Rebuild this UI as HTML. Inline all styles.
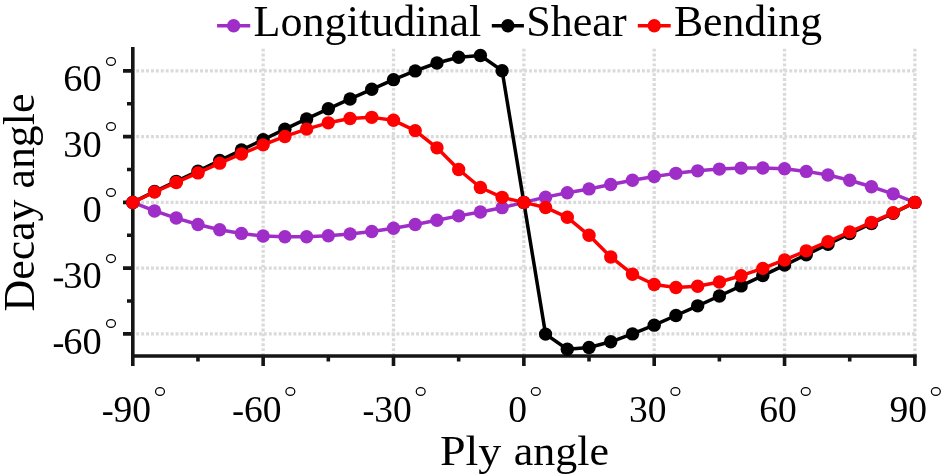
<!DOCTYPE html><html><head><meta charset="utf-8"><style>html,body{margin:0;padding:0;background:#fff;}svg{display:block;will-change:transform;}text{font-family:"Liberation Serif",serif;fill:#000;}</style></head><body>
<svg width="944" height="474" viewBox="0 0 944 474">
<rect width="944" height="474" fill="#fff"/>
<path d="M263.15 47V356 M393.50 47V356 M523.85 47V356 M654.20 47V356 M784.55 47V356 M914.90 47V356" stroke="#dadada" stroke-width="3.3" stroke-dasharray="2.9 2.01" stroke-dashoffset="-1.65" fill="none"/>
<path d="M132.80 70.90H914.90 M132.80 136.65H914.90 M132.80 202.40H914.90 M132.80 268.15H914.90 M132.80 333.90H914.90" stroke="#dadada" stroke-width="3.3" stroke-dasharray="2.9 2.01" stroke-dashoffset="1.45" fill="none"/>
<path d="M132.80 47V366 M131.30 356H916.80 M263.15 356V366 M393.50 356V366 M523.85 356V366 M654.20 356V366 M784.55 356V366 M914.90 356V366 M197.97 356V361.5 M328.32 356V361.5 M458.67 356V361.5 M589.02 356V361.5 M719.38 356V361.5 M849.72 356V361.5 M132.80 70.90H123 M132.80 136.65H123 M132.80 202.40H123 M132.80 268.15H123 M132.80 333.90H123 M132.80 103.77H127 M132.80 169.52H127 M132.80 235.28H127 M132.80 301.03H127" stroke="#151515" stroke-width="3.6" fill="none"/>
<path d="M132.80 202.40 L154.53 210.95 L176.25 218.07 L197.97 224.54 L219.70 229.80 L241.43 233.41 L263.15 236.04 L284.88 236.81 L306.60 236.70 L328.32 235.71 L350.05 233.96 L371.77 231.44 L393.50 228.26 L415.22 224.54 L436.95 220.26 L458.67 215.88 L480.40 212.04 L502.12 207.66 L523.85 202.40 L545.57 197.14 L567.30 192.76 L589.02 188.92 L610.75 184.54 L632.47 180.26 L654.20 176.54 L675.92 173.36 L697.65 170.84 L719.38 169.09 L741.10 168.10 L762.82 167.99 L784.55 168.76 L806.27 171.39 L828.00 175.00 L849.72 180.26 L871.45 186.73 L893.17 193.85 L914.90 202.40" stroke="#9f2ec8" stroke-width="3.5" fill="none" stroke-linejoin="round"/><circle cx="132.80" cy="202.40" r="6.7" fill="#9f2ec8"/><circle cx="154.53" cy="210.95" r="6.7" fill="#9f2ec8"/><circle cx="176.25" cy="218.07" r="6.7" fill="#9f2ec8"/><circle cx="197.97" cy="224.54" r="6.7" fill="#9f2ec8"/><circle cx="219.70" cy="229.80" r="6.7" fill="#9f2ec8"/><circle cx="241.43" cy="233.41" r="6.7" fill="#9f2ec8"/><circle cx="263.15" cy="236.04" r="6.7" fill="#9f2ec8"/><circle cx="284.88" cy="236.81" r="6.7" fill="#9f2ec8"/><circle cx="306.60" cy="236.70" r="6.7" fill="#9f2ec8"/><circle cx="328.32" cy="235.71" r="6.7" fill="#9f2ec8"/><circle cx="350.05" cy="233.96" r="6.7" fill="#9f2ec8"/><circle cx="371.77" cy="231.44" r="6.7" fill="#9f2ec8"/><circle cx="393.50" cy="228.26" r="6.7" fill="#9f2ec8"/><circle cx="415.22" cy="224.54" r="6.7" fill="#9f2ec8"/><circle cx="436.95" cy="220.26" r="6.7" fill="#9f2ec8"/><circle cx="458.67" cy="215.88" r="6.7" fill="#9f2ec8"/><circle cx="480.40" cy="212.04" r="6.7" fill="#9f2ec8"/><circle cx="502.12" cy="207.66" r="6.7" fill="#9f2ec8"/><circle cx="523.85" cy="202.40" r="6.7" fill="#9f2ec8"/><circle cx="545.57" cy="197.14" r="6.7" fill="#9f2ec8"/><circle cx="567.30" cy="192.76" r="6.7" fill="#9f2ec8"/><circle cx="589.02" cy="188.92" r="6.7" fill="#9f2ec8"/><circle cx="610.75" cy="184.54" r="6.7" fill="#9f2ec8"/><circle cx="632.47" cy="180.26" r="6.7" fill="#9f2ec8"/><circle cx="654.20" cy="176.54" r="6.7" fill="#9f2ec8"/><circle cx="675.92" cy="173.36" r="6.7" fill="#9f2ec8"/><circle cx="697.65" cy="170.84" r="6.7" fill="#9f2ec8"/><circle cx="719.38" cy="169.09" r="6.7" fill="#9f2ec8"/><circle cx="741.10" cy="168.10" r="6.7" fill="#9f2ec8"/><circle cx="762.82" cy="167.99" r="6.7" fill="#9f2ec8"/><circle cx="784.55" cy="168.76" r="6.7" fill="#9f2ec8"/><circle cx="806.27" cy="171.39" r="6.7" fill="#9f2ec8"/><circle cx="828.00" cy="175.00" r="6.7" fill="#9f2ec8"/><circle cx="849.72" cy="180.26" r="6.7" fill="#9f2ec8"/><circle cx="871.45" cy="186.73" r="6.7" fill="#9f2ec8"/><circle cx="893.17" cy="193.85" r="6.7" fill="#9f2ec8"/><circle cx="914.90" cy="202.40" r="6.7" fill="#9f2ec8"/>
<path d="M132.80 202.40 L154.53 191.55 L176.25 181.36 L197.97 171.17 L219.70 160.54 L241.43 150.02 L263.15 139.72 L284.88 129.20 L306.60 118.90 L328.32 108.81 L350.05 98.95 L371.77 89.31 L393.50 79.66 L415.22 70.90 L436.95 63.01 L458.67 57.31 L480.40 55.56 L502.12 70.68 L523.85 202.40 L545.57 334.12 L567.30 349.24 L589.02 347.49 L610.75 341.79 L632.47 333.90 L654.20 325.14 L675.92 315.49 L697.65 305.85 L719.38 295.99 L741.10 285.90 L762.82 275.60 L784.55 265.08 L806.27 254.78 L828.00 244.26 L849.72 233.63 L871.45 223.44 L893.17 213.25 L914.90 202.40" stroke="#000000" stroke-width="3.5" fill="none" stroke-linejoin="round"/><circle cx="132.80" cy="202.40" r="6.7" fill="#000000"/><circle cx="154.53" cy="191.55" r="6.7" fill="#000000"/><circle cx="176.25" cy="181.36" r="6.7" fill="#000000"/><circle cx="197.97" cy="171.17" r="6.7" fill="#000000"/><circle cx="219.70" cy="160.54" r="6.7" fill="#000000"/><circle cx="241.43" cy="150.02" r="6.7" fill="#000000"/><circle cx="263.15" cy="139.72" r="6.7" fill="#000000"/><circle cx="284.88" cy="129.20" r="6.7" fill="#000000"/><circle cx="306.60" cy="118.90" r="6.7" fill="#000000"/><circle cx="328.32" cy="108.81" r="6.7" fill="#000000"/><circle cx="350.05" cy="98.95" r="6.7" fill="#000000"/><circle cx="371.77" cy="89.31" r="6.7" fill="#000000"/><circle cx="393.50" cy="79.66" r="6.7" fill="#000000"/><circle cx="415.22" cy="70.90" r="6.7" fill="#000000"/><circle cx="436.95" cy="63.01" r="6.7" fill="#000000"/><circle cx="458.67" cy="57.31" r="6.7" fill="#000000"/><circle cx="480.40" cy="55.56" r="6.7" fill="#000000"/><circle cx="502.12" cy="70.68" r="6.7" fill="#000000"/><circle cx="523.85" cy="202.40" r="6.7" fill="#000000"/><circle cx="545.57" cy="334.12" r="6.7" fill="#000000"/><circle cx="567.30" cy="349.24" r="6.7" fill="#000000"/><circle cx="589.02" cy="347.49" r="6.7" fill="#000000"/><circle cx="610.75" cy="341.79" r="6.7" fill="#000000"/><circle cx="632.47" cy="333.90" r="6.7" fill="#000000"/><circle cx="654.20" cy="325.14" r="6.7" fill="#000000"/><circle cx="675.92" cy="315.49" r="6.7" fill="#000000"/><circle cx="697.65" cy="305.85" r="6.7" fill="#000000"/><circle cx="719.38" cy="295.99" r="6.7" fill="#000000"/><circle cx="741.10" cy="285.90" r="6.7" fill="#000000"/><circle cx="762.82" cy="275.60" r="6.7" fill="#000000"/><circle cx="784.55" cy="265.08" r="6.7" fill="#000000"/><circle cx="806.27" cy="254.78" r="6.7" fill="#000000"/><circle cx="828.00" cy="244.26" r="6.7" fill="#000000"/><circle cx="849.72" cy="233.63" r="6.7" fill="#000000"/><circle cx="871.45" cy="223.44" r="6.7" fill="#000000"/><circle cx="893.17" cy="213.25" r="6.7" fill="#000000"/><circle cx="914.90" cy="202.40" r="6.7" fill="#000000"/>
<path d="M132.80 202.40 L154.53 191.99 L176.25 182.46 L197.97 172.92 L219.70 163.17 L241.43 153.96 L263.15 144.87 L284.88 136.43 L306.60 129.09 L328.32 122.84 L350.05 118.57 L371.77 117.36 L393.50 120.32 L415.22 130.62 L436.95 147.83 L458.67 169.52 L480.40 187.50 L502.12 197.36 L523.85 202.40 L545.57 207.44 L567.30 217.30 L589.02 235.28 L610.75 256.97 L632.47 274.18 L654.20 284.48 L675.92 287.44 L697.65 286.23 L719.38 281.96 L741.10 275.71 L762.82 268.37 L784.55 259.93 L806.27 250.84 L828.00 241.63 L849.72 231.88 L871.45 222.34 L893.17 212.81 L914.90 202.40" stroke="#ff0000" stroke-width="3.5" fill="none" stroke-linejoin="round"/><circle cx="132.80" cy="202.40" r="6.7" fill="#ff0000"/><circle cx="154.53" cy="191.99" r="6.7" fill="#ff0000"/><circle cx="176.25" cy="182.46" r="6.7" fill="#ff0000"/><circle cx="197.97" cy="172.92" r="6.7" fill="#ff0000"/><circle cx="219.70" cy="163.17" r="6.7" fill="#ff0000"/><circle cx="241.43" cy="153.96" r="6.7" fill="#ff0000"/><circle cx="263.15" cy="144.87" r="6.7" fill="#ff0000"/><circle cx="284.88" cy="136.43" r="6.7" fill="#ff0000"/><circle cx="306.60" cy="129.09" r="6.7" fill="#ff0000"/><circle cx="328.32" cy="122.84" r="6.7" fill="#ff0000"/><circle cx="350.05" cy="118.57" r="6.7" fill="#ff0000"/><circle cx="371.77" cy="117.36" r="6.7" fill="#ff0000"/><circle cx="393.50" cy="120.32" r="6.7" fill="#ff0000"/><circle cx="415.22" cy="130.62" r="6.7" fill="#ff0000"/><circle cx="436.95" cy="147.83" r="6.7" fill="#ff0000"/><circle cx="458.67" cy="169.52" r="6.7" fill="#ff0000"/><circle cx="480.40" cy="187.50" r="6.7" fill="#ff0000"/><circle cx="502.12" cy="197.36" r="6.7" fill="#ff0000"/><circle cx="523.85" cy="202.40" r="6.7" fill="#ff0000"/><circle cx="545.57" cy="207.44" r="6.7" fill="#ff0000"/><circle cx="567.30" cy="217.30" r="6.7" fill="#ff0000"/><circle cx="589.02" cy="235.28" r="6.7" fill="#ff0000"/><circle cx="610.75" cy="256.97" r="6.7" fill="#ff0000"/><circle cx="632.47" cy="274.18" r="6.7" fill="#ff0000"/><circle cx="654.20" cy="284.48" r="6.7" fill="#ff0000"/><circle cx="675.92" cy="287.44" r="6.7" fill="#ff0000"/><circle cx="697.65" cy="286.23" r="6.7" fill="#ff0000"/><circle cx="719.38" cy="281.96" r="6.7" fill="#ff0000"/><circle cx="741.10" cy="275.71" r="6.7" fill="#ff0000"/><circle cx="762.82" cy="268.37" r="6.7" fill="#ff0000"/><circle cx="784.55" cy="259.93" r="6.7" fill="#ff0000"/><circle cx="806.27" cy="250.84" r="6.7" fill="#ff0000"/><circle cx="828.00" cy="241.63" r="6.7" fill="#ff0000"/><circle cx="849.72" cy="231.88" r="6.7" fill="#ff0000"/><circle cx="871.45" cy="222.34" r="6.7" fill="#ff0000"/><circle cx="893.17" cy="212.81" r="6.7" fill="#ff0000"/><circle cx="914.90" cy="202.40" r="6.7" fill="#ff0000"/>
<text transform="translate(101.6 90.90) scale(1.025 1)" font-size="37.5" text-anchor="end">60</text>
<ellipse cx="111.00" cy="61.50" rx="4.45" ry="3.95" fill="none" stroke="#000" stroke-width="1.25"/>
<text transform="translate(101.6 156.65) scale(1.025 1)" font-size="37.5" text-anchor="end">30</text>
<ellipse cx="111.00" cy="126.50" rx="4.45" ry="3.95" fill="none" stroke="#000" stroke-width="1.25"/>
<text transform="translate(101.6 222.40) scale(1.025 1)" font-size="37.5" text-anchor="end">0</text>
<ellipse cx="111.00" cy="192.50" rx="4.45" ry="3.95" fill="none" stroke="#000" stroke-width="1.25"/>
<text transform="translate(101.6 288.15) scale(1.025 1)" font-size="37.5" text-anchor="end">30</text>
<rect x="53.80" y="278.55" width="9.3" height="2.7" fill="#000"/>
<ellipse cx="111.00" cy="258.60" rx="4.45" ry="3.95" fill="none" stroke="#000" stroke-width="1.25"/>
<text transform="translate(101.6 353.90) scale(1.025 1)" font-size="37.5" text-anchor="end">60</text>
<rect x="53.80" y="344.30" width="9.3" height="2.7" fill="#000"/>
<ellipse cx="111.00" cy="323.50" rx="4.45" ry="3.95" fill="none" stroke="#000" stroke-width="1.25"/>
<text x="151.10" y="421.9" font-size="37.5" text-anchor="end">90</text>
<rect x="103.10" y="412.30" width="9.3" height="2.7" fill="#000"/>
<ellipse cx="160.00" cy="391.45" rx="4.45" ry="3.95" fill="none" stroke="#000" stroke-width="1.25"/>
<text x="281.45" y="421.9" font-size="37.5" text-anchor="end">60</text>
<rect x="233.45" y="412.30" width="9.3" height="2.7" fill="#000"/>
<ellipse cx="290.35" cy="391.45" rx="4.45" ry="3.95" fill="none" stroke="#000" stroke-width="1.25"/>
<text x="411.80" y="421.9" font-size="37.5" text-anchor="end">30</text>
<rect x="363.80" y="412.30" width="9.3" height="2.7" fill="#000"/>
<ellipse cx="420.70" cy="391.45" rx="4.45" ry="3.95" fill="none" stroke="#000" stroke-width="1.25"/>
<text x="526.90" y="421.9" font-size="37.5" text-anchor="end">0</text>
<ellipse cx="535.80" cy="391.45" rx="4.45" ry="3.95" fill="none" stroke="#000" stroke-width="1.25"/>
<text x="666.50" y="421.9" font-size="37.5" text-anchor="end">30</text>
<ellipse cx="675.40" cy="391.45" rx="4.45" ry="3.95" fill="none" stroke="#000" stroke-width="1.25"/>
<text x="796.85" y="421.9" font-size="37.5" text-anchor="end">60</text>
<ellipse cx="805.75" cy="391.45" rx="4.45" ry="3.95" fill="none" stroke="#000" stroke-width="1.25"/>
<text x="926.95" y="421.9" font-size="37.5" text-anchor="end">90</text>
<ellipse cx="935.85" cy="391.45" rx="4.45" ry="3.95" fill="none" stroke="#000" stroke-width="1.25"/>
<path d="M217.1 25.8H250.2" stroke="#9f2ec8" stroke-width="3.5"/><circle cx="233.65" cy="25.8" r="6.7" fill="#9f2ec8"/>
<text transform="translate(253.60 36.00) scale(1.0160 1)" font-size="43.4" text-anchor="start">Longitudinal</text>
<path d="M491.8 25.8H523.9" stroke="#000000" stroke-width="3.5"/><circle cx="507.85" cy="25.8" r="6.7" fill="#000000"/>
<text transform="translate(526.20 36.00) scale(1.0160 1)" font-size="43.4" text-anchor="start">Shear</text>
<path d="M637.8 25.8H670.7" stroke="#ff0000" stroke-width="3.5"/><circle cx="654.25" cy="25.8" r="6.7" fill="#ff0000"/>
<text transform="translate(673.90 36.00) scale(1.0080 1)" font-size="43.4" text-anchor="start">Bending</text>
<text transform="translate(440.00 464.90) scale(1.0690 1)" font-size="43" text-anchor="start">Ply</text>
<text transform="translate(513.80 464.90) scale(1.0220 1)" font-size="43" text-anchor="start">angle</text>
<text transform="translate(34.20 202.50) rotate(-90) scale(1.0100 1)" font-size="43.4" text-anchor="middle">Decay angle</text>
</svg></body></html>
